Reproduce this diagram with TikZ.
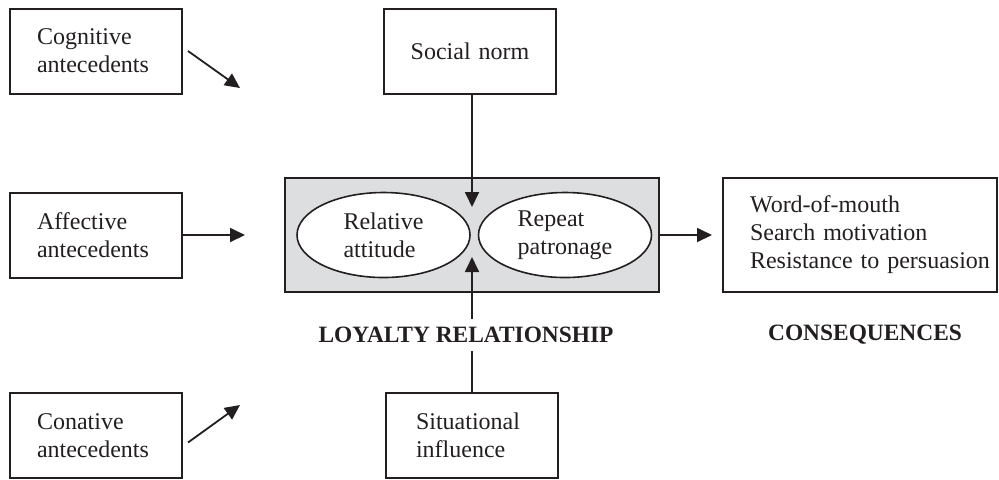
\documentclass[tikz,border=0pt]{standalone}
\usepackage{fontspec}
\setmainfont{Liberation Serif}
\usetikzlibrary{arrows.meta,positioning,shapes.geometric}
\definecolor{PanelGray}{RGB}{221,222,224}
\definecolor{InkBlack}{RGB}{35,31,32}

\begin{document}
\begin{tikzpicture}[
  x=0.5pt, y=-0.5pt,
  box/.style={draw=InkBlack, line width=1pt, text=InkBlack, align=left, inner ysep=0pt,
    inner xsep=13.5pt, text width=59pt, minimum height=42.5pt, font=\fontsize{12}{14}\selectfont},
  oval/.style={ellipse, draw=InkBlack, line width=0.8pt, fill=white, text=InkBlack, align=left,
    inner sep=0pt, minimum width=86.5pt, minimum height=42.5pt, font=\fontsize{12}{14}\selectfont},
  arr/.style={-{Triangle[length=7.5pt,width=7pt]}, line width=0.9pt, InkBlack},
  heading/.style={fill=white, inner sep=4pt, text=InkBlack, font=\fontsize{11.7}{14}\selectfont\bfseries}
]
  \useasboundingbox (0,0) rectangle (999,479);

  % antecedents
  \node[box] (cog) at (96,51) {Cognitive\\antecedents};
  \node[box] (aff) at (96,235) {Affective\\antecedents};
  \node[box] (con) at (96,435.5) {Conative\\antecedents};

  % moderators
  \node[box, align=center, inner xsep=6pt, text width=74pt] (social) at (470,51.5) {Social norm};
  \node[box, inner xsep=15pt, text width=56pt] (sit) at (472,435.5) {Situational\\influence};

  % loyalty relationship
  \node[draw=InkBlack, line width=1pt, fill=PanelGray, minimum width=187pt, minimum height=57pt] (loyalty) at (472,235) {};
  \node[oval] (attitude) at (383.5,235) {Relative\\attitude};
  \node[oval] (patronage) at (565,235) {Repeat\\patronage};

  % consequences
  \node[box, inner xsep=0pt, text width=137pt, minimum height=57pt] (cons) at (860,235)
    {\leftskip=13.5pt Word-of-mouth\\Search motivation\\Resistance to persuasion\par};

  \coordinate (cogtip) at (240,88);
  \coordinate[right=31pt of aff.east] (afftip);
  \coordinate (contip) at (240,405);
  \coordinate (normtip) at (472,207);
  \coordinate (sittip) at (472,257);

  \draw[arr] ([xshift=2.5pt]cog.east) -- (cogtip);
  \draw[arr] (aff.east) -- (afftip);
  \draw[arr] ([xshift=2.5pt,yshift=-3.5pt]con.east) -- (contip);
  \draw[arr] (social.south -| normtip) -- (normtip);
  \draw[arr] (sit.north) -- (sittip);
  \draw[arr, shorten >=5pt] (loyalty.east) -- (cons.west);

  % headings sit over the line from below
  \node[heading] (loyaltylabel) at (466,335) {LOYALTY RELATIONSHIP};
  \node[heading] (conslabel) at (865,335) {CONSEQUENCES};
\end{tikzpicture}
\end{document}
